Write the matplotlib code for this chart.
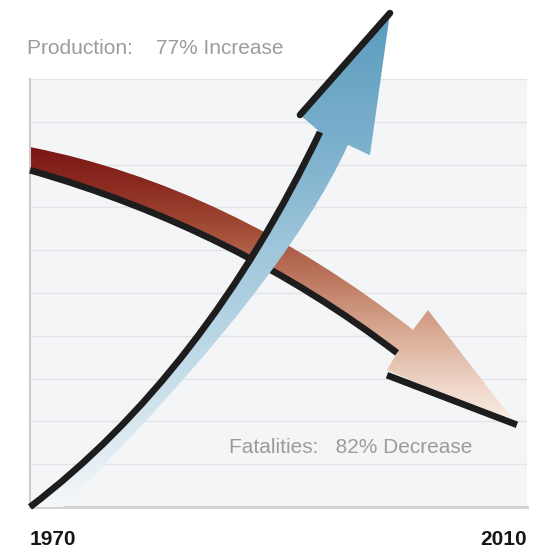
import numpy as np
import matplotlib
matplotlib.use("Agg")
import matplotlib.pyplot as plt
from matplotlib.path import Path
from matplotlib.patches import PathPatch
from matplotlib.colors import LinearSegmentedColormap
from matplotlib.transforms import blended_transform_factory

plt.rcParams["font.family"] = ["Liberation Sans", "DejaVu Sans"]

# ---- data -------------------------------------------------------------
years = [1970, 2010]
production_change_pct = 77
fatalities_change_pct = -82

# Production trend band (year, index level): start, midpoint, end of each side
prod_edge_year = [1970.00, 1982.84, 1993.34]
prod_edge_level = [0.00, 3.74, 8.76]
prod_outer_year = [1972.66, 1987.28, 1995.59]
prod_outer_level = [0.00, 4.70, 8.46]
# arrow head: edge-side barb, tip, outer barb
prod_head_year = [1991.73, 1998.97, 1997.36]
prod_head_level = [9.16, 11.54, 8.22]

# Fatalities trend band
fat_edge_year = [1970.00, 1985.61, 1999.54]
fat_edge_level = [7.87, 6.12, 3.60]
fat_outer_year = [1970.00, 1985.69, 2000.82]
fat_outer_level = [8.41, 6.89, 4.14]
fat_head_year = [1998.73, 2009.19, 2002.03]
fat_head_level = [3.20, 1.92, 4.60]

grid_levels = list(range(0, 11))

# ---- helpers ----------------------------------------------------------
def arc_tail(pts):
    """Quadratic Bezier passing through start, midpoint and end (after start)."""
    p0, m, p2 = (np.asarray(p, dtype=float) for p in pts)
    ctrl = 2 * m - (p0 + p2) / 2
    return [ctrl, p2], [Path.CURVE3, Path.CURVE3]


def band_outline(edge, outer, head):
    verts = [edge[0]]
    codes = [Path.MOVETO]
    v, c = arc_tail(edge)
    verts += v
    codes += c
    for p in (head[0], head[1], head[2], outer[-1]):
        verts.append(p)
        codes.append(Path.LINETO)
    v, c = arc_tail(outer[::-1])
    verts += v
    codes += c
    verts.append(edge[0])
    codes.append(Path.CLOSEPOLY)
    return Path(np.asarray(verts, dtype=float), codes)


def edge_curve(edge):
    v, c = arc_tail(edge)
    return Path(np.asarray([edge[0]] + v, dtype=float), [Path.MOVETO] + c)


def gradient_fill(ax, path, stops, y0, y1, z):
    cmap = LinearSegmentedColormap.from_list("band", stops)
    img = cmap(np.linspace(0, 1, 256))[:, None, :]
    im = ax.imshow(img, extent=[1970, 2010, y0, y1], origin="lower",
                   aspect="auto", interpolation="bilinear", zorder=z)
    patch = PathPatch(path, transform=ax.transData, facecolor="none",
                      edgecolor="none")
    im.set_clip_box(ax.figure.bbox)
    im.set_clip_path(patch)


# ---- figure -----------------------------------------------------------
W, H = 539, 550
fig = plt.figure(figsize=(W / 100, H / 100), dpi=100)
fig.patch.set_facecolor("white")
ax = fig.add_axes([30 / W, 43 / H, 497 / W, 428 / H])
ax.set_facecolor("#f4f5f7")

ax.set_yticks(grid_levels)
ax.yaxis.grid(True, color="#e3e4e7", lw=1.0)
ax.set_axisbelow(True)
ax.tick_params(left=False, labelleft=False, bottom=False, labelbottom=False)
for s in ("top", "right"):
    ax.spines[s].set_visible(False)
ax.spines["left"].set_color("#cbcbcb")
ax.spines["left"].set_linewidth(1.5)
ax.spines["bottom"].set_color("#cfcfcf")
ax.spines["bottom"].set_linewidth(2.0)
ax.set_xticks(years)

# year labels at both ends of the axis
yr_tr = blended_transform_factory(ax.transData, ax.transAxes)
yr_y = -(545 - 507) / 428
ax.text(years[0], yr_y, str(years[0]), transform=yr_tr, ha="left",
        va="baseline", fontsize=15, fontweight="bold", color="#161616")
ax.text(years[-1], yr_y, str(years[-1]), transform=yr_tr, ha="right",
        va="baseline", fontsize=15, fontweight="bold", color="#161616")

black = "#1d1d1d"
lw_edge = 4.8

# fatalities arrow (drawn first, passes underneath)
fat_edge = list(zip(fat_edge_year, fat_edge_level))
fat_outer = list(zip(fat_outer_year, fat_outer_level))
fat_head = list(zip(fat_head_year, fat_head_level))
fat_path = band_outline(fat_edge, fat_outer, fat_head)
fat_stops = [(0.0, "#faf1ec"), (0.14, "#f0d8cb"), (0.32, "#dbae98"),
             (0.50, "#bf7d64"), (0.68, "#a44e38"), (0.84, "#8b2b20"),
             (1.0, "#761212")]
gradient_fill(ax, fat_path, fat_stops, 1.8, 8.6, 2)
ax.add_patch(PathPatch(edge_curve(fat_edge), facecolor="none", edgecolor=black,
                       lw=lw_edge, capstyle="butt", zorder=3, clip_on=False))
ax.plot([fat_head_year[0], fat_head_year[1]],
        [fat_head_level[0] - 0.12, fat_head_level[1]],
        color=black, lw=lw_edge, solid_capstyle="butt", zorder=3, clip_on=False)

# production arrow (on top)
prod_edge = list(zip(prod_edge_year, prod_edge_level))
prod_outer = list(zip(prod_outer_year, prod_outer_level))
prod_head = list(zip(prod_head_year, prod_head_level))
prod_path = band_outline(prod_edge, prod_outer, prod_head)
prod_stops = [(0.0, "#f5f8fa"), (0.12, "#dfebf2"), (0.32, "#bdd8e7"),
              (0.52, "#9fc6da"), (0.72, "#7db1cd"), (1.0, "#5a9bbe")]
gradient_fill(ax, prod_path, prod_stops, 0.0, 11.6, 4)
ax.add_patch(PathPatch(edge_curve(prod_edge), facecolor="none", edgecolor=black,
                       lw=lw_edge, capstyle="butt", zorder=5, clip_on=False))
ax.plot([prod_head_year[0], prod_head_year[1]],
        [prod_head_level[0], prod_head_level[1]],
        color=black, lw=lw_edge, solid_capstyle="round", zorder=5, clip_on=False)

# labels
fig.text(27 / W, 1 - 49 / H,
         f"Production:    {production_change_pct}% Increase",
         fontsize=15, color="#9c9c9c", ha="left", va="center")
ax.text(1986.0, 1.40,
        f"Fatalities:   {abs(fatalities_change_pct)}% Decrease",
        fontsize=15, color="#9c9c9c", ha="left", va="center", zorder=6)

ax.set_xlim(1970, 2010)
ax.set_ylim(0, 10)

fig.savefig("out.png", dpi=100, facecolor="white")
